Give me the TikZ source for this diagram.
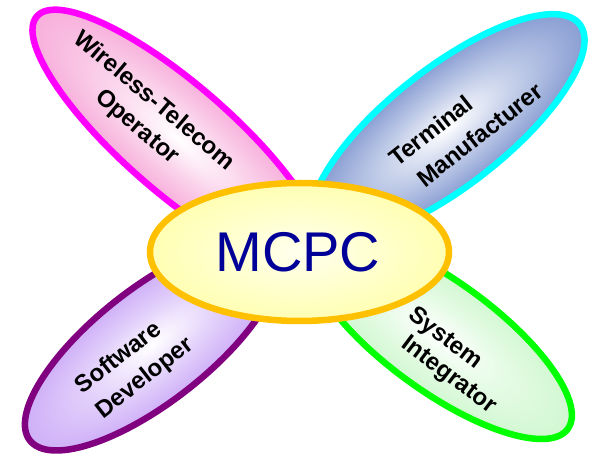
\documentclass[tikz,border=0pt]{standalone}
\usepackage{fontspec}
\setmainfont{Liberation Sans}
\definecolor{pinkfill}{RGB}{244,145,205}
\definecolor{pinkline}{RGB}{255,0,255}
\definecolor{bluefill}{RGB}{86,116,192}
\definecolor{cyanline}{RGB}{0,255,255}
\definecolor{lilacfill}{RGB}{188,145,245}
\definecolor{purpleline}{RGB}{128,0,128}
\definecolor{mintfill}{RGB}{192,245,192}
\definecolor{limeline}{RGB}{0,255,0}
\definecolor{yellowfill}{RGB}{255,255,145}
\definecolor{goldline}{RGB}{255,192,0}
\definecolor{navy}{RGB}{0,0,153}
\pgfdeclareradialshading{pinkshade}{\pgfpoint{0bp}{0bp}}{color(0bp)=(white); color(12bp)=(pinkfill!40!white); color(36bp)=(pinkfill); color(50bp)=(pinkfill)}
\pgfdeclareradialshading{blueshade}{\pgfpoint{0bp}{0bp}}{color(0bp)=(white); color(12bp)=(bluefill!35!white); color(36bp)=(bluefill); color(50bp)=(bluefill)}
\pgfdeclareradialshading{lilacshade}{\pgfpoint{0bp}{0bp}}{color(0bp)=(white); color(12bp)=(lilacfill!40!white); color(36bp)=(lilacfill); color(50bp)=(lilacfill)}
\pgfdeclareradialshading{mintshade}{\pgfpoint{0bp}{0bp}}{color(0bp)=(white); color(12bp)=(mintfill!40!white); color(36bp)=(mintfill); color(50bp)=(mintfill)}
\pgfdeclareradialshading{yellowshade}{\pgfpoint{0bp}{0bp}}{color(0bp)=(yellowfill!15!white); color(18bp)=(yellowfill!55!white); color(40bp)=(yellowfill); color(50bp)=(yellowfill)}
\begin{document}
\begin{tikzpicture}[x=1pt,y=-1pt,
  petal/.style={line width=6.5pt},
  petaltext/.style={font=\bfseries\fontsize{24}{29}\selectfont, text=black, inner sep=0pt, text height=16pt, text depth=0pt},
  hubtext/.style={font=\fontsize{56}{60}\selectfont, text=navy, inner sep=0pt, text height=40pt, text depth=0pt}]
\useasboundingbox (0,0) rectangle (592,454);
% petals
\begin{scope}[transform canvas={shift={(178,139)},rotate=-41}]
  \shadedraw[petal, shading=pinkshade, draw=pinkline] (0,0) ellipse [x radius=187pt, y radius=54pt];
\end{scope}
\begin{scope}[transform canvas={shift={(448,127)},rotate=38}]
  \shadedraw[petal, shading=blueshade, draw=cyanline] (0,0) ellipse [x radius=167pt, y radius=59pt];
\end{scope}
\begin{scope}[transform canvas={shift={(152,345)},rotate=38}]
  \shadedraw[petal, shading=lilacshade, draw=purpleline] (0,0) ellipse [x radius=155pt, y radius=57pt];
\end{scope}
\begin{scope}[transform canvas={shift={(440,336)},rotate=-36}]
  \shadedraw[petal, shading=mintshade, draw=limeline] (0,0) ellipse [x radius=158pt, y radius=55pt];
\end{scope}
% hub
\begin{scope}[transform canvas={shift={(299.5,252)}}]
  \shadedraw[petal, shading=yellowshade, draw=goldline] (0,0) ellipse [x radius=149.5pt, y radius=69pt];
\end{scope}
% texts
\node[petaltext, rotate=-40] (wt1) at (155,100) {Wireless-Telecom};
\node[petaltext, rotate=-40] (wt2) at (138,126) {Operator};
\node[petaltext, rotate=38] (tm1) at (431,131) {Terminal};
\node[petaltext, rotate=38] (tm2) at (480,135) {Manufacturer};
\node[petaltext, rotate=38] (sd1) at (118,357) {Software};
\node[petaltext, rotate=38] (sd2) at (144,377) {Developer};
\node[petaltext, rotate=-37] (si1) at (446,337) {System};
\node[petaltext, rotate=-37] (si2) at (450,374) {Integrator};
\node[hubtext] (hub) at (298,252) {MCPC};
\end{tikzpicture}
\end{document}
